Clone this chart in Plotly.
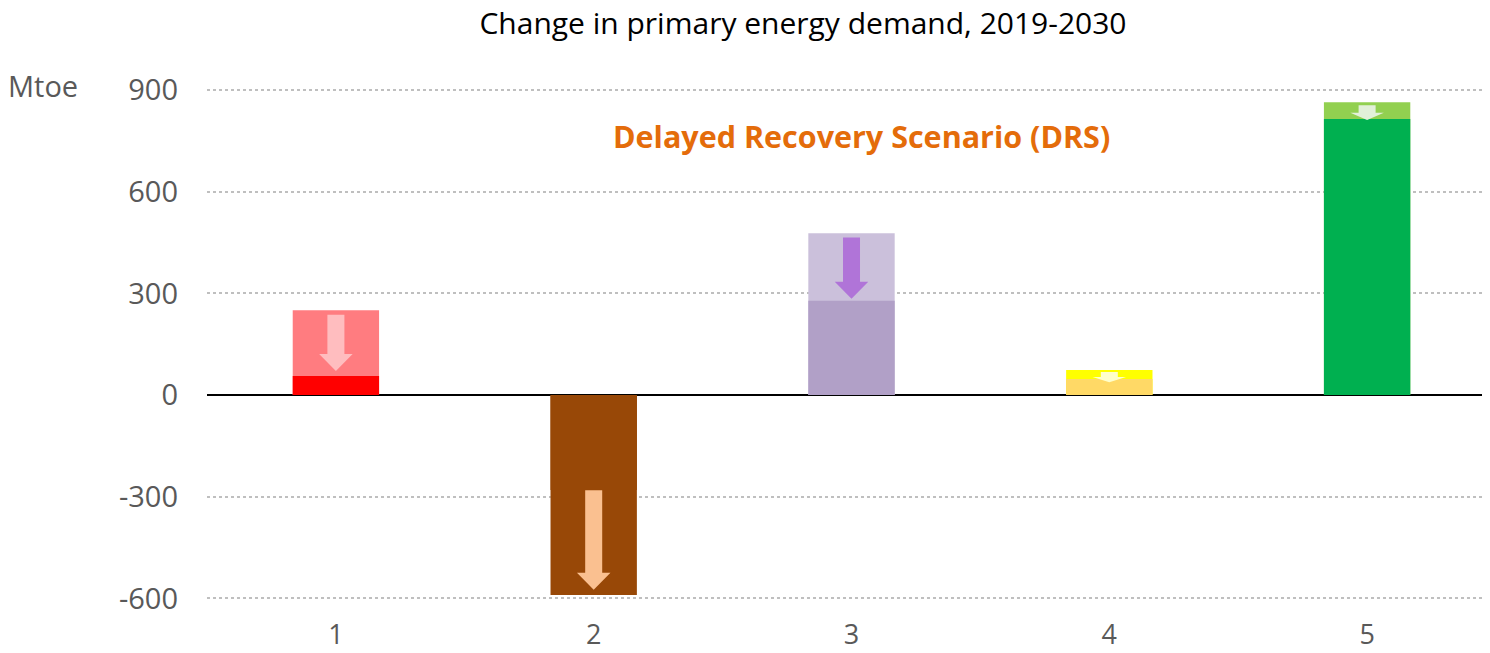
import plotly.graph_objects as go

categories = ["1", "2", "3", "4", "5"]
steps_values = [250, -280, 477, 74, 864]      # light (outer) bars
drs_values = [56, -590, 278, 47, 814]         # DRS (inner) bars
arrow_from = [237, -281, 465, 68, 855]
arrow_to = [71, -574, 284, 38, 811]
y_ticks = [-600, -300, 0, 300, 600, 900]

outer_colors = ["#FF7C80", "#984807", "#CBC0DB", "#FFFF00", "#92D050"]
inner_colors = ["#FF0000", "#984807", "#B1A0C7", "#FFD966", "#00B050"]
arrow_colors = ["#FFBDBF", "#FAC090", "#B074D8", "#FFFFCC", "#E2F0D9"]

FONT = "Open Sans"
xpos = list(range(1, len(categories) + 1))

# page body has an 8px default margin: size the figure so it fits the window
W, H = 1482, 645
L, R, T, B = 199, 0, 65, 41

fig = go.Figure()
fig.add_trace(go.Bar(x=xpos, y=steps_values, marker=dict(color=outer_colors, line=dict(width=0)),
                     width=0.335, showlegend=False, hoverinfo="skip"))
fig.add_trace(go.Bar(x=xpos, y=drs_values, marker=dict(color=inner_colors, line=dict(width=0)),
                     width=0.335, showlegend=False, hoverinfo="skip"))

shaft_half = 0.033
head_half = 0.065
for xc, y0, y1, col in zip(xpos, arrow_from, arrow_to, arrow_colors):
    length = abs(y1 - y0)
    head = min(50, 0.5 * length)
    sgn = 1 if y1 < y0 else -1
    yh = y1 + sgn * head
    path = (f"M {xc - shaft_half},{y0} L {xc + shaft_half},{y0} L {xc + shaft_half},{yh} "
            f"L {xc + head_half},{yh} L {xc},{y1} L {xc - head_half},{yh} L {xc - shaft_half},{yh} Z")
    fig.add_shape(type="path", path=path, xref="x", yref="y", fillcolor=col,
                  line=dict(width=0), layer="above")

plot_w = W - L - R
plot_h = H - T - B
fig.add_annotation(text="<b>Delayed Recovery Scenario (DRS)</b>", xref="paper", yref="paper",
                   x=(853 - L) / plot_w, y=(H - B - 128) / plot_h, xanchor="center",
                   yanchor="middle", showarrow=False,
                   font=dict(family=FONT, size=30.5, color="#E46C0A"))
fig.add_annotation(text="Mtoe", xref="paper", yref="y", x=0, y=900, xanchor="right",
                   xshift=-127, yshift=4, showarrow=False,
                   font=dict(family=FONT, size=29, color="#595959"))

fig.update_layout(
    width=W, height=H,
    margin=dict(l=L, r=R, t=T, b=B, autoexpand=False),
    plot_bgcolor="white", paper_bgcolor="white",
    barmode="overlay",
    title=dict(text="Change in primary energy demand, 2019-2030", x=795 / W, xanchor="center",
               y=1 - 15 / H, yanchor="middle",
               font=dict(family=FONT, size=30, color="#000000")),
    xaxis=dict(tickmode="array", tickvals=xpos, ticktext=categories, range=[0.5, 5.4767],
               showgrid=False, showline=False, zeroline=False, automargin=False,
               tickfont=dict(family=FONT, size=27, color="#595959"), ticks="", ticklabelstandoff=4),
    yaxis=dict(tickmode="array", tickvals=y_ticks, ticktext=[str(v) for v in y_ticks],
               range=[-640, 950], showgrid=True, gridcolor="#BFBFBF", griddash="dot", gridwidth=2,
               zeroline=True, zerolinecolor="#000000", zerolinewidth=1.5, showline=False,
               automargin=False,
               tickfont=dict(family=FONT, size=29, color="#595959"), ticks="", ticklabelstandoff=28),
)

fig.write_html("out.html")
